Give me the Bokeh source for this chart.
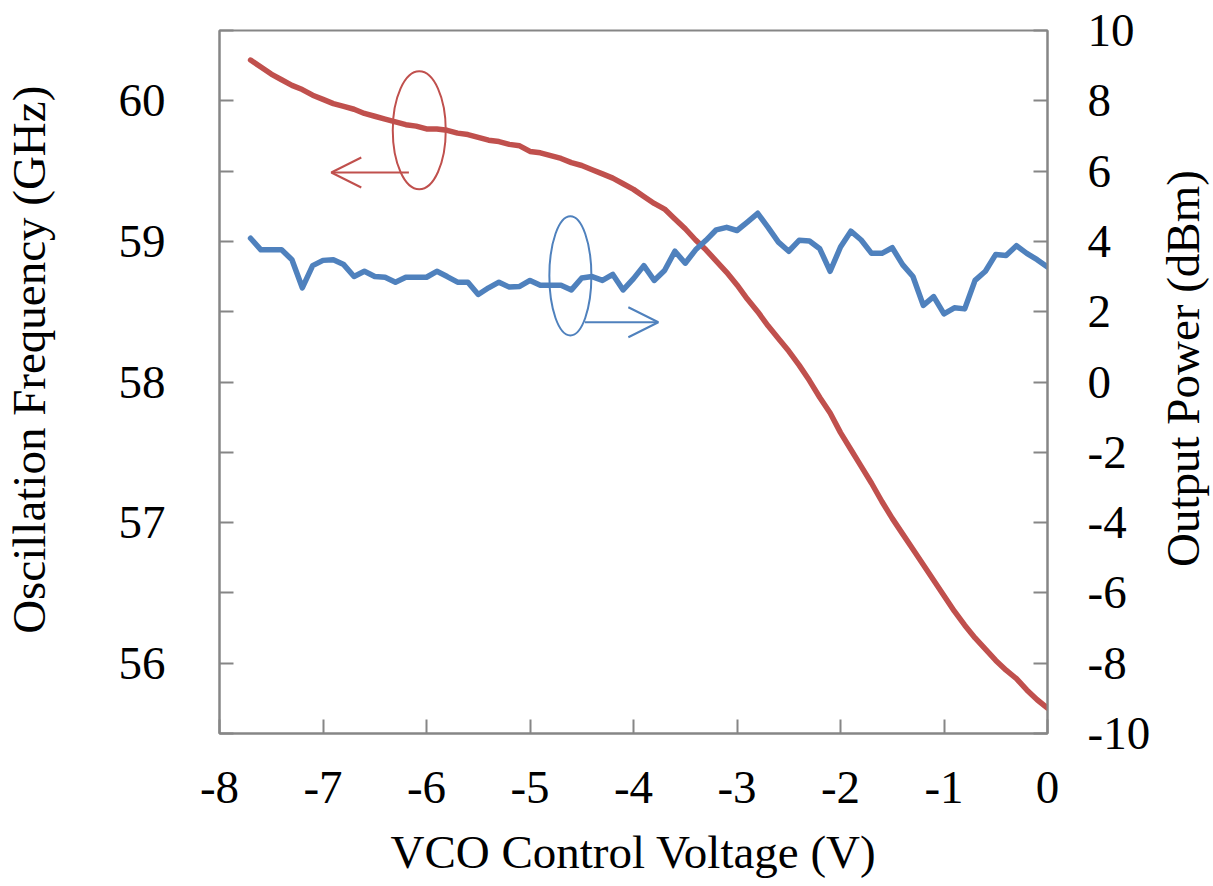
import math
from bokeh.plotting import figure
from bokeh.layouts import row
from bokeh.models import (Range1d, LinearAxis, FixedTicker, Arrow, OpenHead,
                          CustomJSTickFormatter)
from bokeh.core.properties import value
from bokeh.embed import file_html
from bokeh.resources import INLINE

# ---------------- data ----------------
voltage = [-7.7, -7.6, -7.5, -7.4, -7.3, -7.2, -7.1, -7.0, -6.9, -6.8,
           -6.7, -6.6, -6.5, -6.4, -6.3, -6.2, -6.1, -6.0, -5.9, -5.8,
           -5.7, -5.6, -5.5, -5.4, -5.3, -5.2, -5.1, -5.0, -4.9, -4.8,
           -4.7, -4.6, -4.5, -4.4, -4.3, -4.2, -4.1, -4.0, -3.9, -3.8,
           -3.7, -3.6, -3.5, -3.4, -3.3, -3.2, -3.1, -3.0, -2.9, -2.8,
           -2.7, -2.6, -2.5, -2.4, -2.3, -2.2, -2.1, -2.0, -1.9, -1.8,
           -1.7, -1.6, -1.5, -1.4, -1.3, -1.2, -1.1, -1.0, -0.9, -0.8,
           -0.7, -0.6, -0.5, -0.4, -0.3, -0.2, -0.1, 0.0]

freq_ghz = [60.29, 60.24, 60.19, 60.15, 60.11, 60.08, 60.04, 60.01, 59.98, 59.96,
            59.94, 59.91, 59.89, 59.87, 59.85, 59.83, 59.82, 59.80, 59.80, 59.79,
            59.77, 59.76, 59.74, 59.72, 59.71, 59.69, 59.68, 59.64, 59.63, 59.61,
            59.59, 59.56, 59.54, 59.51, 59.48, 59.45, 59.41, 59.37, 59.32, 59.27,
            59.23, 59.16, 59.09, 59.01, 58.94, 58.86, 58.78, 58.69, 58.59, 58.50,
            58.40, 58.31, 58.22, 58.12, 58.01, 57.89, 57.78, 57.64, 57.52, 57.40,
            57.28, 57.15, 57.03, 56.92, 56.81, 56.70, 56.59, 56.48, 56.37, 56.27,
            56.18, 56.10, 56.02, 55.95, 55.89, 55.81, 55.74, 55.68]

power_dbm = [4.09, 3.76, 3.76, 3.76, 3.48, 2.68, 3.31, 3.46, 3.48, 3.34,
             3.00, 3.15, 3.00, 2.98, 2.84, 2.98, 2.98, 2.98, 3.15, 3.00,
             2.84, 2.84, 2.49, 2.68, 2.84, 2.70, 2.72, 2.89, 2.75, 2.75,
             2.75, 2.62, 2.96, 3.00, 2.89, 3.06, 2.62, 2.94, 3.31, 2.89,
             3.17, 3.72, 3.38, 3.76, 4.03, 4.33, 4.40, 4.31, 4.55, 4.80,
             4.40, 3.98, 3.72, 4.03, 4.01, 3.79, 3.15, 3.84, 4.29, 4.04,
             3.66, 3.66, 3.82, 3.34, 3.00, 2.18, 2.43, 1.94, 2.11, 2.08,
             2.89, 3.15, 3.63, 3.60, 3.88, 3.66, 3.48, 3.27]

x_ticks = [-8, -7, -6, -5, -4, -3, -2, -1, 0]
left_ticks = [56, 57, 58, 59, 60]
left_minor_ticks = [55.5, 56.5, 57.5, 58.5, 59.5, 60.5]
right_ticks = [-10, -8, -6, -4, -2, 0, 2, 4, 6, 8, 10]

x_title = "VCO Control Voltage (V)"
left_title = "Oscillation Frequency (GHz)"
right_title = "Output Power (dBm)"

# ---------------- style ----------------
RED = "#C0504D"
BLUE = "#4F81BD"
GRAY = "#868686"
FONT = "Liberation Serif"
FS = "47px"
H = 886
LEFT_W = 60      # strip holding the left title
RIGHT_W = 59     # strip holding the right title
MAIN_W = 1213 - LEFT_W - RIGHT_W

plain = CustomJSTickFormatter(code="return tick.toString();")

p = figure(width=MAIN_W, height=H,
           x_range=Range1d(-8, 0), y_range=Range1d(55.5, 60.5),
           output_backend="svg", toolbar_location=None,
           min_border_left=219 - LEFT_W, min_border_right=1213 - RIGHT_W - 1047,
           min_border_top=30, min_border_bottom=153)
p.extra_y_ranges = {"power": Range1d(-10, 10)}
p.xgrid.visible = False
p.ygrid.visible = False
p.background_fill_color = "white"
p.border_fill_color = "white"
p.outline_line_color = GRAY
p.outline_line_width = 2


def style_axis(ax, standoff):
    ax.formatter = plain
    ax.major_label_text_font = FONT
    ax.major_label_text_font_size = FS
    ax.major_label_text_color = "black"
    ax.major_label_standoff = standoff
    ax.axis_label_text_font = FONT
    ax.axis_label_text_font_size = FS
    ax.axis_label_text_font_style = "normal"
    ax.axis_label_text_color = "black"
    ax.major_tick_in = 14
    ax.major_tick_out = 0
    ax.minor_tick_in = 0
    ax.minor_tick_out = 0
    ax.axis_line_color = GRAY
    ax.axis_line_width = 2
    ax.major_tick_line_color = GRAY
    ax.major_tick_line_width = 2
    ax.minor_tick_line_color = GRAY
    ax.minor_tick_line_width = 2


# x axis
xa = p.xaxis[0]
xa.ticker = FixedTicker(ticks=x_ticks)
style_axis(xa, 38)
xa.axis_label = x_title
xa.axis_label_standoff = 20

# left axis
ya = p.yaxis[0]
ya.ticker = FixedTicker(ticks=left_ticks, minor_ticks=left_minor_ticks)
style_axis(ya, 54)
ya.minor_tick_in = 14

# right axis
ra = LinearAxis(y_range_name="power", ticker=FixedTicker(ticks=right_ticks))
style_axis(ra, 40)
p.add_layout(ra, "right")

# data lines
p.line(voltage, freq_ghz, line_color=RED, line_width=5.5, line_join="round", line_cap="round")
p.line(voltage, power_dbm, line_color=BLUE, line_width=5.5, line_join="round", line_cap="round",
       y_range_name="power")

# annotation: ellipses + arrows
p.ellipse(x=[-6.07], y=[59.79], width=[0.512], height=[0.839],
          fill_color=None, line_color=RED, line_width=2)
p.add_layout(Arrow(end=OpenHead(size=30, line_color=RED, line_width=2),
                   x_start=-6.17, y_start=59.49, x_end=-6.92, y_end=59.49,
                   line_color=RED, line_width=2))

p.ellipse(x=[-4.61], y=[3.02], width=[0.406], height=[3.39],
          fill_color=None, line_color=BLUE, line_width=2, y_range_name="power")
p.add_layout(Arrow(end=OpenHead(size=30, line_color=BLUE, line_width=2),
                   x_start=-4.47, y_start=1.70, x_end=-3.76, y_end=1.70,
                   line_color=BLUE, line_width=2, y_range_name="power"))


# ---------------- title strips (vertical titles reading bottom-to-top) ----------------
def title_strip(width, cx, cy, text):
    s = figure(width=width, height=H, x_range=Range1d(0, width), y_range=Range1d(H, 0),
               output_backend="svg", toolbar_location=None,
               min_border=0, min_border_left=0, min_border_right=0,
               min_border_top=0, min_border_bottom=0)
    s.axis.visible = False
    s.grid.visible = False
    s.outline_line_color = None
    s.background_fill_color = "white"
    s.border_fill_color = "white"
    s.text(x=[cx], y=[cy], text=[text], angle=math.pi / 2,
           text_align="center", text_baseline="middle",
           text_font=value(FONT), text_font_size=value(FS), text_color="black")
    return s


left_strip = title_strip(LEFT_W, 28, 415, left_title)
right_strip = title_strip(RIGHT_W, 28, 426, right_title)

layout = row(left_strip, p, right_strip, spacing=0)

open("out.html", "w").write(file_html(layout, INLINE))
